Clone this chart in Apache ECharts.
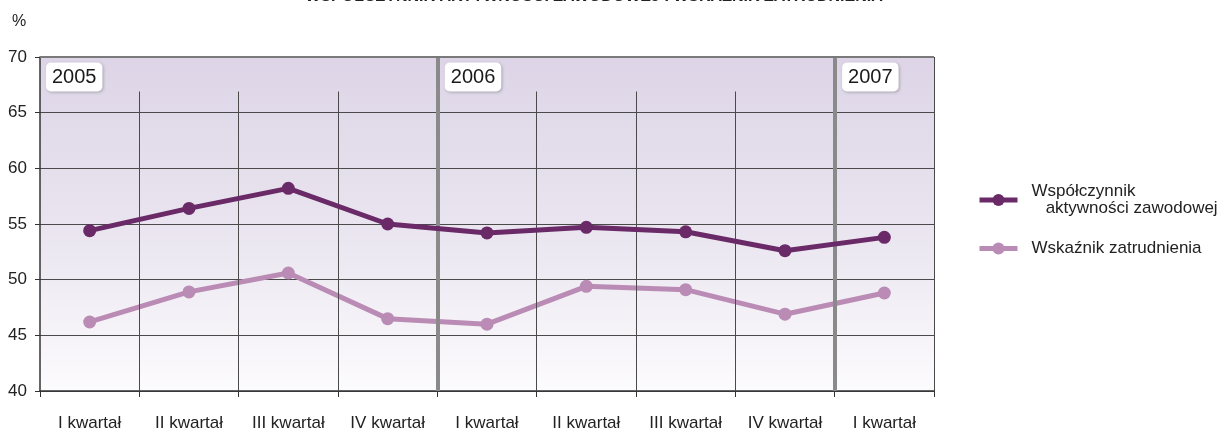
<!DOCTYPE html>
<html>
<head>
<meta charset="utf-8">
<script src="https://cdn.jsdelivr.net/npm/echarts@6/dist/echarts.min.js"></script>
<style>
html,body{margin:0;padding:0;background:#fff;}
#c{width:1224px;height:434px;}
</style>
</head>
<body>
<div id="c"></div>
<script>
const categories = ['I kwartał','II kwartał','III kwartał','IV kwartał','I kwartał','II kwartał','III kwartał','IV kwartał','I kwartał'];
const activityRate = [54.4, 56.4, 58.2, 55.0, 54.2, 54.7, 54.3, 52.6, 53.8];
const employmentRate = [46.2, 48.9, 50.6, 46.5, 46.0, 49.4, 49.1, 46.9, 48.8];
const years = ['2005', '2006', '2007'];
const yearStartIndex = [0, 4, 8];
const seriesNames = ['Współczynnik\n   aktywności zawodowej', 'Wskaźnik zatrudnienia'];
const titleText = 'WSPÓŁCZYNNIK AKTYWNOŚCI ZAWODOWEJ I WSKAŹNIK ZATRUDNIENIA';

const FONT = "'Liberation Sans', Arial, sans-serif";
const chart = echarts.init(document.getElementById('c'));

const quarterLines = [];
for (let i = 1; i < categories.length; i++) {
  if (yearStartIndex.indexOf(i) < 0) {
    quarterLines.push([{coord: [i, 40]}, {coord: [i, 66.9]}]);
  }
}
const yearLines = yearStartIndex.filter(i => i > 0).map(i => [{coord: [i, 40]}, {coord: [i, 70]}]);
const yearLabelData = years.map((y, k) => [yearStartIndex[k] + (k === 0 ? 0.06 : 0.075), 68.2, y]);

chart.setOption({
  animation: false,
  backgroundColor: '#fff',
  title: {
    text: titleText,
    left: 589, top: -16,
    textAlign: 'center',
    textStyle: {fontFamily: FONT, fontSize: 16, fontWeight: 'bold', color: '#222'}
  },
  graphic: [{
    type: 'text', left: 12, top: 14,
    style: {text: '%', font: "16px 'Liberation Sans', sans-serif", fill: '#222'}
  }],
  legend: {
    orient: 'vertical',
    left: 972, top: 178,
    itemWidth: 38, itemHeight: 15,
    itemGap: 23,
    data: seriesNames,
    lineStyle: {width: 5},
    textStyle: {fontFamily: FONT, fontSize: 17, color: '#222', lineHeight: 17, padding: [0,0,0,9]}
  },
  grid: {
    left: 40, right: 1224 - 934, top: 57, bottom: 434 - 391,
    show: true,
    borderWidth: 0,
    backgroundColor: {
      type: 'linear', x: 0, y: 0, x2: 0, y2: 1,
      colorStops: [
        {offset: 0, color: '#ddd5e7'},
        {offset: 0.5, color: '#e9e4ef'},
        {offset: 1, color: '#fcfbfd'}
      ]
    }
  },
  xAxis: [{
    type: 'category',
    data: categories,
    boundaryGap: true,
    axisLine: {lineStyle: {color: '#333', width: 1.5}},
    axisTick: {show: true, length: 6, lineStyle: {color: '#333'}},
    axisLabel: {fontFamily: FONT, fontSize: 17, color: '#222', margin: 24, interval: 0},
    splitLine: {show: false}
  }, {
    type: 'value', min: 0, max: 9, show: false
  }],
  yAxis: {
    type: 'value', min: 40, max: 70, interval: 5,
    axisLine: {show: true, lineStyle: {color: '#333', width: 1.5}},
    axisTick: {show: true, length: 5, lineStyle: {color: '#333'}},
    axisLabel: {fontFamily: FONT, fontSize: 17, color: '#222', margin: 13},
    splitLine: {lineStyle: {color: '#4a4a4a', width: 1}}
  },
  series: [{
    type: 'line', xAxisIndex: 1, data: [], silent: true,
    markLine: {
      silent: true, symbol: 'none', label: {show: false},
      lineStyle: {color: '#4a4a4a', width: 1, type: 'solid'},
      data: quarterLines.concat([[{coord: [9, 40]}, {coord: [9, 70]}]])
    }
  }, {
    type: 'line', xAxisIndex: 1, data: [], silent: true,
    markLine: {
      silent: true, symbol: 'none', label: {show: false},
      lineStyle: {color: '#8a8a8a', width: 4, type: 'solid'},
      data: yearLines
    }
  }, {
    type: 'line', xAxisIndex: 1, data: [], silent: true,
    markLine: {
      silent: true, symbol: 'none', label: {show: false},
      lineStyle: {color: '#7a7a7a', width: 2, type: 'solid'},
      data: [[{coord: [0, 70]}, {coord: [9, 70]}]]
    }
  }, {
    name: seriesNames[0],
    type: 'line', data: activityRate,
    symbol: 'circle', symbolSize: 13,
    lineStyle: {color: '#6a2a68', width: 5},
    itemStyle: {color: '#6a2a68'},
    z: 5
  }, {
    name: seriesNames[1],
    type: 'line', data: employmentRate,
    symbol: 'circle', symbolSize: 13,
    lineStyle: {color: '#ba8bb4', width: 5},
    itemStyle: {color: '#ba8bb4'},
    z: 4
  }, {
    type: 'scatter', xAxisIndex: 1, data: yearLabelData,
    symbolSize: 0, silent: true, z: 6,
    itemStyle: {opacity: 1},
    label: {
      show: true, position: 'right', distance: 0,
      formatter: p => p.data[2],
      fontFamily: FONT, fontSize: 20, color: '#1a1a1a', opacity: 1,
      backgroundColor: '#ffffff', borderRadius: 5,
      padding: [5, 6, 4, 6],
      shadowBlur: 3, shadowColor: 'rgba(0,0,0,0.25)', shadowOffsetX: 1, shadowOffsetY: 1
    }
  }]
});
</script>
</body>
</html>
